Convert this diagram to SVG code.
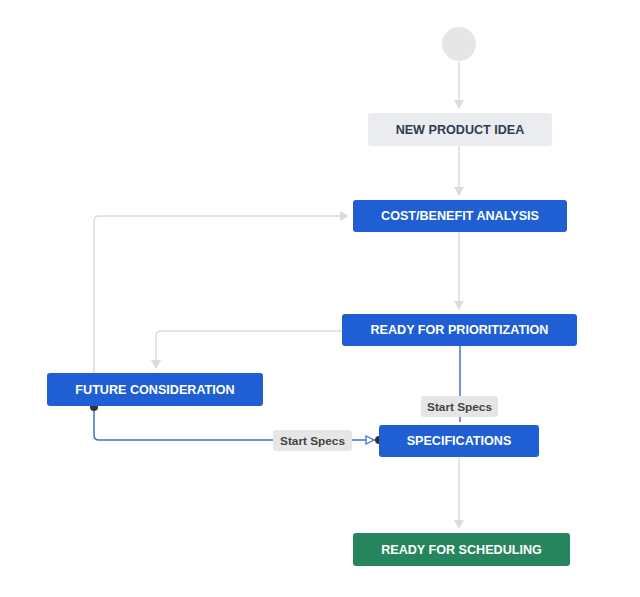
<svg xmlns="http://www.w3.org/2000/svg" width="640" height="597" viewBox="0 0 640 597">
<defs>
<style>
.node rect{rx:3;ry:3}
.blue rect{fill:#1f5fd3}
.green rect{fill:#27855d}
.grey rect{fill:#ebecf0}
.node text{font-family:"Liberation Sans",Arial,sans-serif;font-weight:bold;font-size:12.6px;text-anchor:middle;dominant-baseline:central}
.blue text,.green text{fill:#ffffff}
.grey text{fill:#2f3b52}
.g{fill:none;stroke:#dcdcdc;stroke-width:1.5}
.b{fill:none;stroke:#3f72d2;stroke-width:1.5}
.lbl rect{fill:#e6e6e6;rx:3;ry:3}
.lbl text{font-family:"Liberation Sans",Arial,sans-serif;font-weight:bold;font-size:11.8px;fill:#444;text-anchor:middle;dominant-baseline:central}
</style>
<marker id="ag" markerWidth="10" markerHeight="10" refX="8" refY="5" orient="auto" markerUnits="userSpaceOnUse">
<path d="M0,0 L9,5 L0,10 z" fill="#dcdcdc"/>
</marker>
<marker id="ab" markerWidth="12" markerHeight="12" refX="10" refY="5" orient="auto" markerUnits="userSpaceOnUse">
<path d="M1,1 L9,5 L1,9 z" fill="#ffffff" stroke="#3f72d2" stroke-width="1.3"/>
</marker>
</defs>
<rect width="640" height="597" fill="#ffffff"/>
<g id="connectors">
<path class="g" d="M459,62 V108" marker-end="url(#ag)"/>
<path class="g" d="M459,146 V195" marker-end="url(#ag)"/>
<path class="g" d="M459,232 V309" marker-end="url(#ag)"/>
<path class="g" d="M459,457 V528" marker-end="url(#ag)"/>
<path class="g" d="M94,373 V221 Q94,216 99,216 H348" marker-end="url(#ag)"/>
<path class="g" d="M342,331 H161 Q156,331 156,336 V368" marker-end="url(#ag)"/>
<path class="b" d="M460,346 V422"/>
<path class="b" d="M94,407 V435 Q94,440 99,440 H375" marker-end="url(#ab)"/>
<circle cx="94" cy="407" r="4" fill="#333"/>
<circle cx="379" cy="440" r="4" fill="#333"/>
<g class="lbl"><rect x="273" y="430" width="79" height="21"/><text x="312.5" y="440.5">Start Specs</text></g>
<g class="lbl"><rect x="421" y="396" width="77" height="21"/><text x="459.5" y="406.5">Start Specs</text></g>
</g>
<g id="start"><circle cx="459" cy="44" r="17" fill="#e6e6e6"/></g>
<g id="new-product-idea" class="node grey"><rect x="368" y="113" width="184" height="33"/><text x="460" y="129.5">NEW PRODUCT IDEA</text></g>
<g id="cost-benefit" class="node blue"><rect x="353" y="200" width="214" height="32"/><text x="460" y="216">COST/BENEFIT ANALYSIS</text></g>
<g id="ready-prioritization" class="node blue"><rect x="342" y="314" width="235" height="32"/><text x="459.5" y="330">READY FOR PRIORITIZATION</text></g>
<g id="future-consideration" class="node blue"><rect x="47" y="373" width="216" height="33"/><text x="155" y="389.5">FUTURE CONSIDERATION</text></g>
<g id="specifications" class="node blue"><rect x="379" y="425" width="160" height="32"/><text x="459" y="441">SPECIFICATIONS</text></g>
<g id="ready-scheduling" class="node green"><rect x="353" y="533" width="217" height="33"/><text x="461.5" y="549.5">READY FOR SCHEDULING</text></g>
</svg>
